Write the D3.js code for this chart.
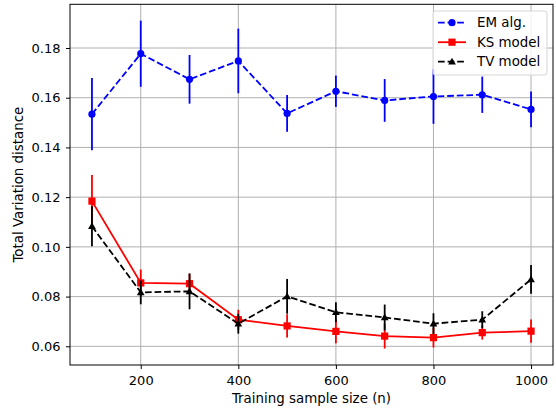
<!DOCTYPE html>
<html>
<head>
<meta charset="utf-8">
<script src="https://cdn.jsdelivr.net/npm/d3@7"></script>
<style>
  html, body { margin: 0; padding: 0; background: #fff; }
  svg { display: block; font-family: "DejaVu Sans", sans-serif; }
</style>
</head>
<body>
<svg id="chart" width="556" height="412"></svg>
<script>
// Sample sizes on the x axis
const sampleSizes = [100, 200, 300, 400, 500, 600, 700, 800, 900, 1000];

// Mean total variation distance and its spread for each method
const emMean = [0.1534, 0.1777, 0.1674, 0.1748, 0.1537, 0.1626, 0.1589, 0.1605, 0.1612, 0.1553];
const emErr  = [0.0145, 0.0133, 0.0098, 0.0130, 0.0074, 0.0063, 0.0086, 0.0110, 0.0073, 0.0072];

const ksMean = [0.1184, 0.0855, 0.0852, 0.0707, 0.0682, 0.0660, 0.0641, 0.0635, 0.0655, 0.0661];
const ksErr  = [0.0105, 0.0054, 0.0040, 0.0040, 0.0047, 0.0048, 0.0050, 0.0040, 0.0028, 0.0047];

const tvMean = [0.1083, 0.0817, 0.0821, 0.0691, 0.0801, 0.0737, 0.0716, 0.0691, 0.0707, 0.0869];
const tvErr  = [0.0080, 0.0048, 0.0072, 0.0040, 0.0070, 0.0040, 0.0052, 0.0042, 0.0034, 0.0058];

const xTicks = [200, 400, 600, 800, 1000];
const yTicks = [0.06, 0.08, 0.10, 0.12, 0.14, 0.16, 0.18];

const seriesNames = ["EM alg.", "KS model", "TV model"];

const series = [
  { name: seriesNames[0], mean: emMean, err: emErr, color: "#0000ff", dash: "6.7,2.9", marker: "circle" },
  { name: seriesNames[1], mean: ksMean, err: ksErr, color: "#ff0000", dash: null, marker: "square" },
  { name: seriesNames[2], mean: tvMean, err: tvErr, color: "#000000", dash: "6.7,2.9", marker: "triangle" }
];

const tickFont = "13px";
const labelFont = "13.4px";

const svg = d3.select("#chart");
const plot = { left: 70, right: 553, top: 4.3, bottom: 365 };

const x = d3.scaleLinear().domain([55, 1045]).range([plot.left, plot.right]);
const y = d3.scaleLinear().domain([0.05248, 0.19758]).range([plot.bottom, plot.top]);

// Grid lines
const grid = svg.append("g");
grid.selectAll("line.gx").data(xTicks).join("line")
  .attr("x1", d => x(d)).attr("x2", d => x(d))
  .attr("y1", plot.top).attr("y2", plot.bottom)
  .attr("stroke", "#b0b0b0").attr("stroke-width", 1);
grid.selectAll("line.gy").data(yTicks).join("line")
  .attr("y1", d => y(d)).attr("y2", d => y(d))
  .attr("x1", plot.left).attr("x2", plot.right)
  .attr("stroke", "#b0b0b0").attr("stroke-width", 1);

// Axes
const xAxis = d3.axisBottom(x).tickValues(xTicks).tickFormat(d3.format("d")).tickSize(4).tickPadding(8);
const yAxis = d3.axisLeft(y).tickValues(yTicks).tickFormat(d3.format(".2f")).tickSize(4).tickPadding(5.5);

const gx = svg.append("g").attr("transform", `translate(0,${plot.bottom})`).call(xAxis);
const gy = svg.append("g").attr("transform", `translate(${plot.left},0)`).call(yAxis);
[gx, gy].forEach(g => {
  g.select(".domain").remove();
  g.selectAll(".tick line").attr("stroke", "#000").attr("stroke-width", 1);
  g.selectAll(".tick text").attr("fill", "#000").style("font-size", tickFont).style("font-family", "DejaVu Sans");
});
gx.selectAll(".tick text").attr("dy", "0.6em");

// Frame
svg.append("rect")
  .attr("x", plot.left).attr("y", plot.top)
  .attr("width", plot.right - plot.left).attr("height", plot.bottom - plot.top)
  .attr("fill", "none").attr("stroke", "#000").attr("stroke-width", 1);

// Axis titles
svg.append("text")
  .attr("x", (plot.left + plot.right) / 2).attr("y", 402.5)
  .attr("text-anchor", "middle").style("font-size", labelFont).attr("fill", "#000")
  .text("Training sample size (n)");
svg.append("text")
  .attr("transform", `translate(23,${(plot.top + plot.bottom) / 2}) rotate(-90)`)
  .attr("text-anchor", "middle").style("font-size", labelFont).attr("fill", "#000")
  .text("Total Variation distance");

// Marker drawing helper
function drawMarker(g, type, cx, cy, color) {
  if (type === "circle") {
    g.append("circle").attr("cx", cx).attr("cy", cy).attr("r", 3.6).attr("fill", color);
  } else if (type === "square") {
    g.append("rect").attr("x", cx - 3.6).attr("y", cy - 3.6).attr("width", 7.2).attr("height", 7.2).attr("fill", color);
  } else {
    const s = d3.symbol().type(d3.symbolTriangle).size(26);
    g.append("path").attr("d", s()).attr("transform", `translate(${cx},${cy + 0.6})`).attr("fill", color);
  }
}

const line = d3.line().x(d => x(d.n)).y(d => y(d.v));

series.forEach(s => {
  const pts = sampleSizes.map((n, i) => ({ n, v: s.mean[i], e: s.err[i] }));
  const g = svg.append("g");
  g.append("path").datum(pts).attr("d", line)
    .attr("fill", "none").attr("stroke", s.color).attr("stroke-width", 1.8)
    .attr("stroke-dasharray", s.dash);
  g.selectAll("line.err").data(pts).join("line")
    .attr("x1", d => x(d.n)).attr("x2", d => x(d.n))
    .attr("y1", d => y(d.v - d.e)).attr("y2", d => y(d.v + d.e))
    .attr("stroke", s.color).attr("stroke-width", 1.8);
  pts.forEach(d => drawMarker(g, s.marker, x(d.n), y(d.v), s.color));
});

// Legend
const lg = svg.append("g");
lg.append("rect")
  .attr("x", 433).attr("y", 11).attr("width", 114).attr("height", 64).attr("rx", 2.5)
  .attr("fill", "#fff").attr("fill-opacity", 0.8).attr("stroke", "#d6d6d6").attr("stroke-width", 1);
series.forEach((s, i) => {
  const cy = 22.7 + i * 19.5;
  lg.append("line").attr("x1", 438).attr("x2", 466).attr("y1", cy).attr("y2", cy)
    .attr("stroke", s.color).attr("stroke-width", 1.8).attr("stroke-dasharray", s.dash);
  drawMarker(lg, s.marker, 452, cy, s.color);
  lg.append("text").attr("x", 477).attr("y", cy + 4.6)
    .style("font-size", labelFont).attr("fill", "#000").text(s.name);
});
</script>
</body>
</html>
